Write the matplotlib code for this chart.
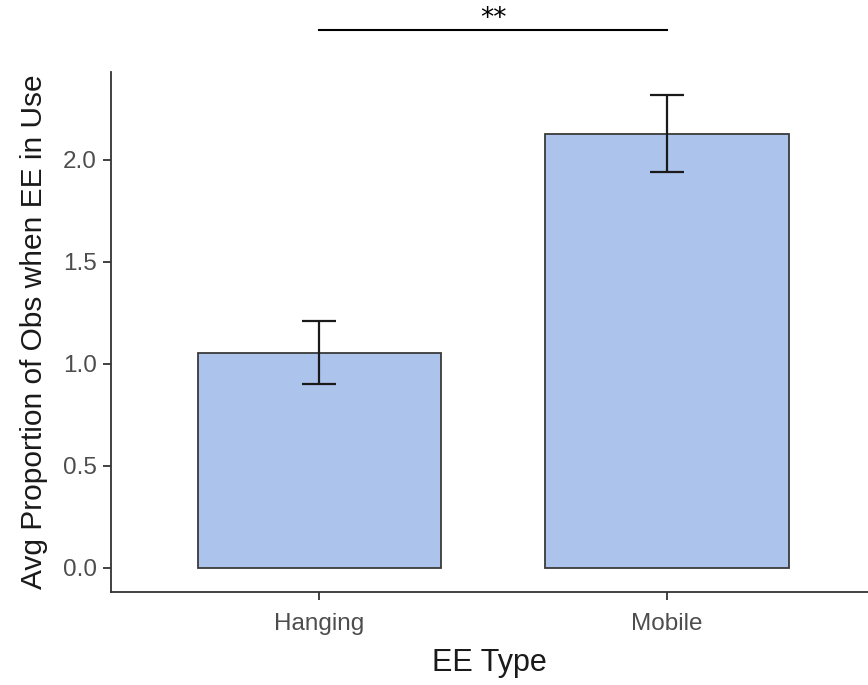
import numpy as np
import matplotlib
matplotlib.use("Agg")
import matplotlib.pyplot as plt

# mean proportion per EE type, with standard error
ee_types = ["Hanging", "Mobile"]
means = [1.053, 2.127]
errors = [0.154, 0.188]
sig_label = "**"

plt.rcParams['font.family'] = ['Liberation Sans', 'DejaVu Sans']

fig = plt.figure(figsize=(8.68, 6.85), dpi=100)
ax = fig.add_axes([0.1275, 0.1362, 0.8725, 0.7587])

x = np.arange(len(ee_types))
ax.bar(x, means, width=0.7, color='#acc3ec', edgecolor='#3a3a3a', linewidth=1.3, zorder=2)
ax.errorbar(x, means, yerr=errors, fmt='none', ecolor='#1a1a1a', elinewidth=1.6,
            capsize=12.3, capthick=1.6, zorder=3)

ax.set_xlim(-0.6, 1.578)
ax.set_ylim(-0.1175, 2.429)
ax.set_xticks(x)
ax.set_xticklabels(ee_types)
ax.set_yticks([0.0, 0.5, 1.0, 1.5, 2.0])
ax.set_yticklabels(['%.1f' % v for v in [0.0, 0.5, 1.0, 1.5, 2.0]])

for side in ['top', 'right']:
    ax.spines[side].set_visible(False)
for side in ['left', 'bottom']:
    ax.spines[side].set_color('#333333')
    ax.spines[side].set_linewidth(1.3)
ax.tick_params(axis='both', colors='#333333', width=1.3, length=6, labelsize=17.5,
               labelcolor='#4d4d4d')
ax.tick_params(axis='x', pad=9)
ax.tick_params(axis='y', pad=4)

ax.set_xlabel("EE Type", fontsize=22, color='#1a1a1a', labelpad=10)
ax.set_ylabel("Avg Proportion of Obs when EE in Use", fontsize=21.5, color='#1a1a1a', labelpad=11)

# significance bracket above the bars
y_sig = 2.637
ax.plot([x[0], x[1]], [y_sig, y_sig], color='black', linewidth=1.5, clip_on=False)
ax.text((x[0] + x[1]) / 2, 2.655, sig_label, ha='center', va='baseline',
        fontsize=19, family='DejaVu Sans', color='black', clip_on=False)

fig.savefig("out.png", dpi=100)
